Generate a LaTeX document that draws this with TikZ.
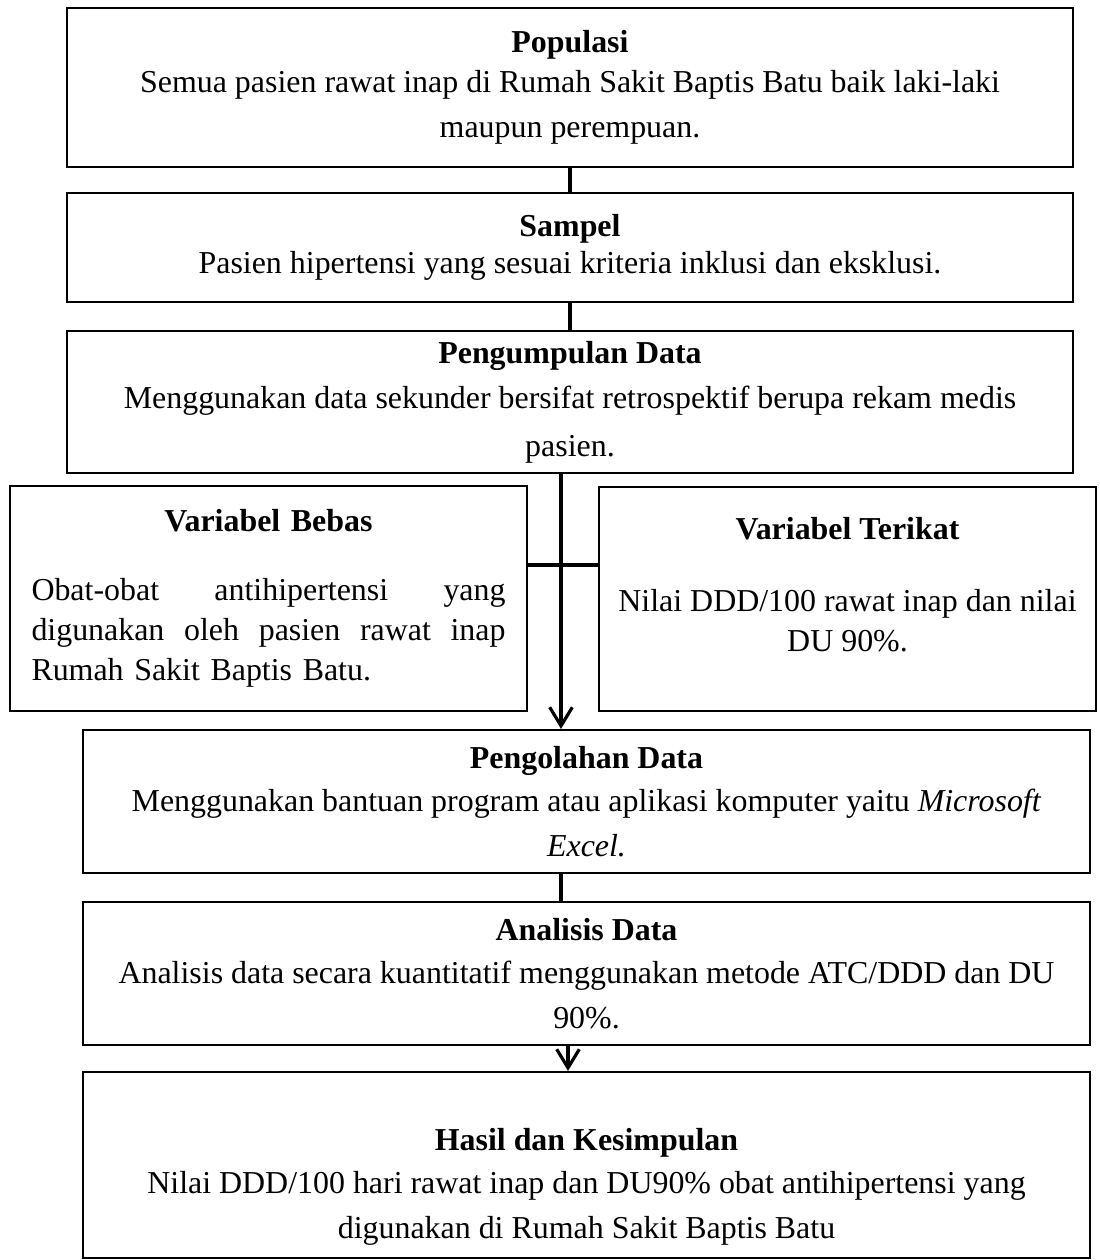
\documentclass[tikz,border=0pt]{standalone}
\usepackage{fontspec}
\setmainfont{Liberation Serif}
\usetikzlibrary{arrows.meta,positioning,calc}
\newcommand{\pxu}{0.376pt}
\tikzset{>={Straight Barb[length=7pt,width=8.5pt]}}
\tikzset{box/.style={draw,line width=0.8pt,align=center,inner sep=0pt,font=\fontsize{12}{15}\selectfont}}

\begin{document}
\begin{tikzpicture}[x=\pxu,y=-\pxu]

\useasboundingbox (0,0) rectangle (1099,1260);

\node [box,minimum width=1006*\pxu,minimum height=159*\pxu] (pop) at (570,87.5)
  {\textbf{Populasi}\\[0pt] Semua pasien rawat inap di Rumah Sakit Baptis Batu baik laki-laki\\[2pt] maupun perempuan.};
\node [box,minimum width=1006*\pxu,minimum height=109*\pxu] (sam) at (570,247.5)
  {\textbf{Sampel}\\[-1pt] Pasien hipertensi yang sesuai kriteria inklusi dan eksklusi.};
\node [box,minimum width=1006*\pxu,minimum height=142*\pxu] (peng) at (570,402)
  {\textbf{Pengumpulan Data}\\[2pt] Menggunakan data sekunder bersifat retrospektif berupa rekam medis\\[3pt] pasien.};

\node [box,minimum width=517*\pxu,minimum height=225*\pxu,text width=474*\pxu,align=left] (bebas) at (268.5,598.5)
  {\makebox[\linewidth]{\textbf{Variabel Bebas}}\\[11pt]
   \makebox[\linewidth][s]{Obat-obat\hfill antihipertensi\hfill yang}\\
   \makebox[\linewidth][s]{digunakan\hfill oleh\hfill pasien\hfill rawat\hfill inap}\\
   Rumah Sakit Baptis Batu.};
\node [box,minimum width=497*\pxu,minimum height=224*\pxu] (terikat) at (847.5,599)
  {\textbf{Variabel Terikat}\\[12pt] Nilai DDD/100 rawat inap dan nilai\\ DU 90\%.\rule[-11pt]{0pt}{11pt}};

\node [box,minimum width=1007*\pxu,minimum height=143*\pxu] (olah) at (586.5,801.5)
  {\textbf{Pengolahan Data}\\[1pt] Menggunakan bantuan program atau aplikasi komputer yaitu \textit{Microsoft}\\[2pt] \textit{Excel.}};
\node [box,minimum width=1007*\pxu,minimum height=143*\pxu] (anal) at (586.5,973.5)
  {\textbf{Analisis Data}\\[1pt] Analisis data secara kuantitatif menggunakan metode ATC/DDD dan DU\\[2pt] 90\%.};
\node [box,minimum width=1007*\pxu,minimum height=186*\pxu] (hasil) at (586.5,1165)
  {\rule{0pt}{25pt}\textbf{Hasil dan Kesimpulan}\\[1pt] Nilai DDD/100 hari rawat inap dan DU90\% obat antihipertensi yang\\[2pt] digunakan di Rumah Sakit Baptis Batu};

\coordinate (mid) at (561,565);
\coordinate (low) at (568,1060);

\begin{scope}[line width=1.2pt]
\draw (pop) -- (sam);
\draw (sam) -- (peng);
\draw[->] (peng.south -| mid) -- (olah.north -| mid);
\draw[line width=1.6pt] (bebas.east |- mid) -- (terikat.west |- mid);
\draw (olah.south -| mid) -- (anal.north -| mid);
\draw[->] (anal.south -| low) -- (hasil.north -| low);
\end{scope}

\end{tikzpicture}
\end{document}
